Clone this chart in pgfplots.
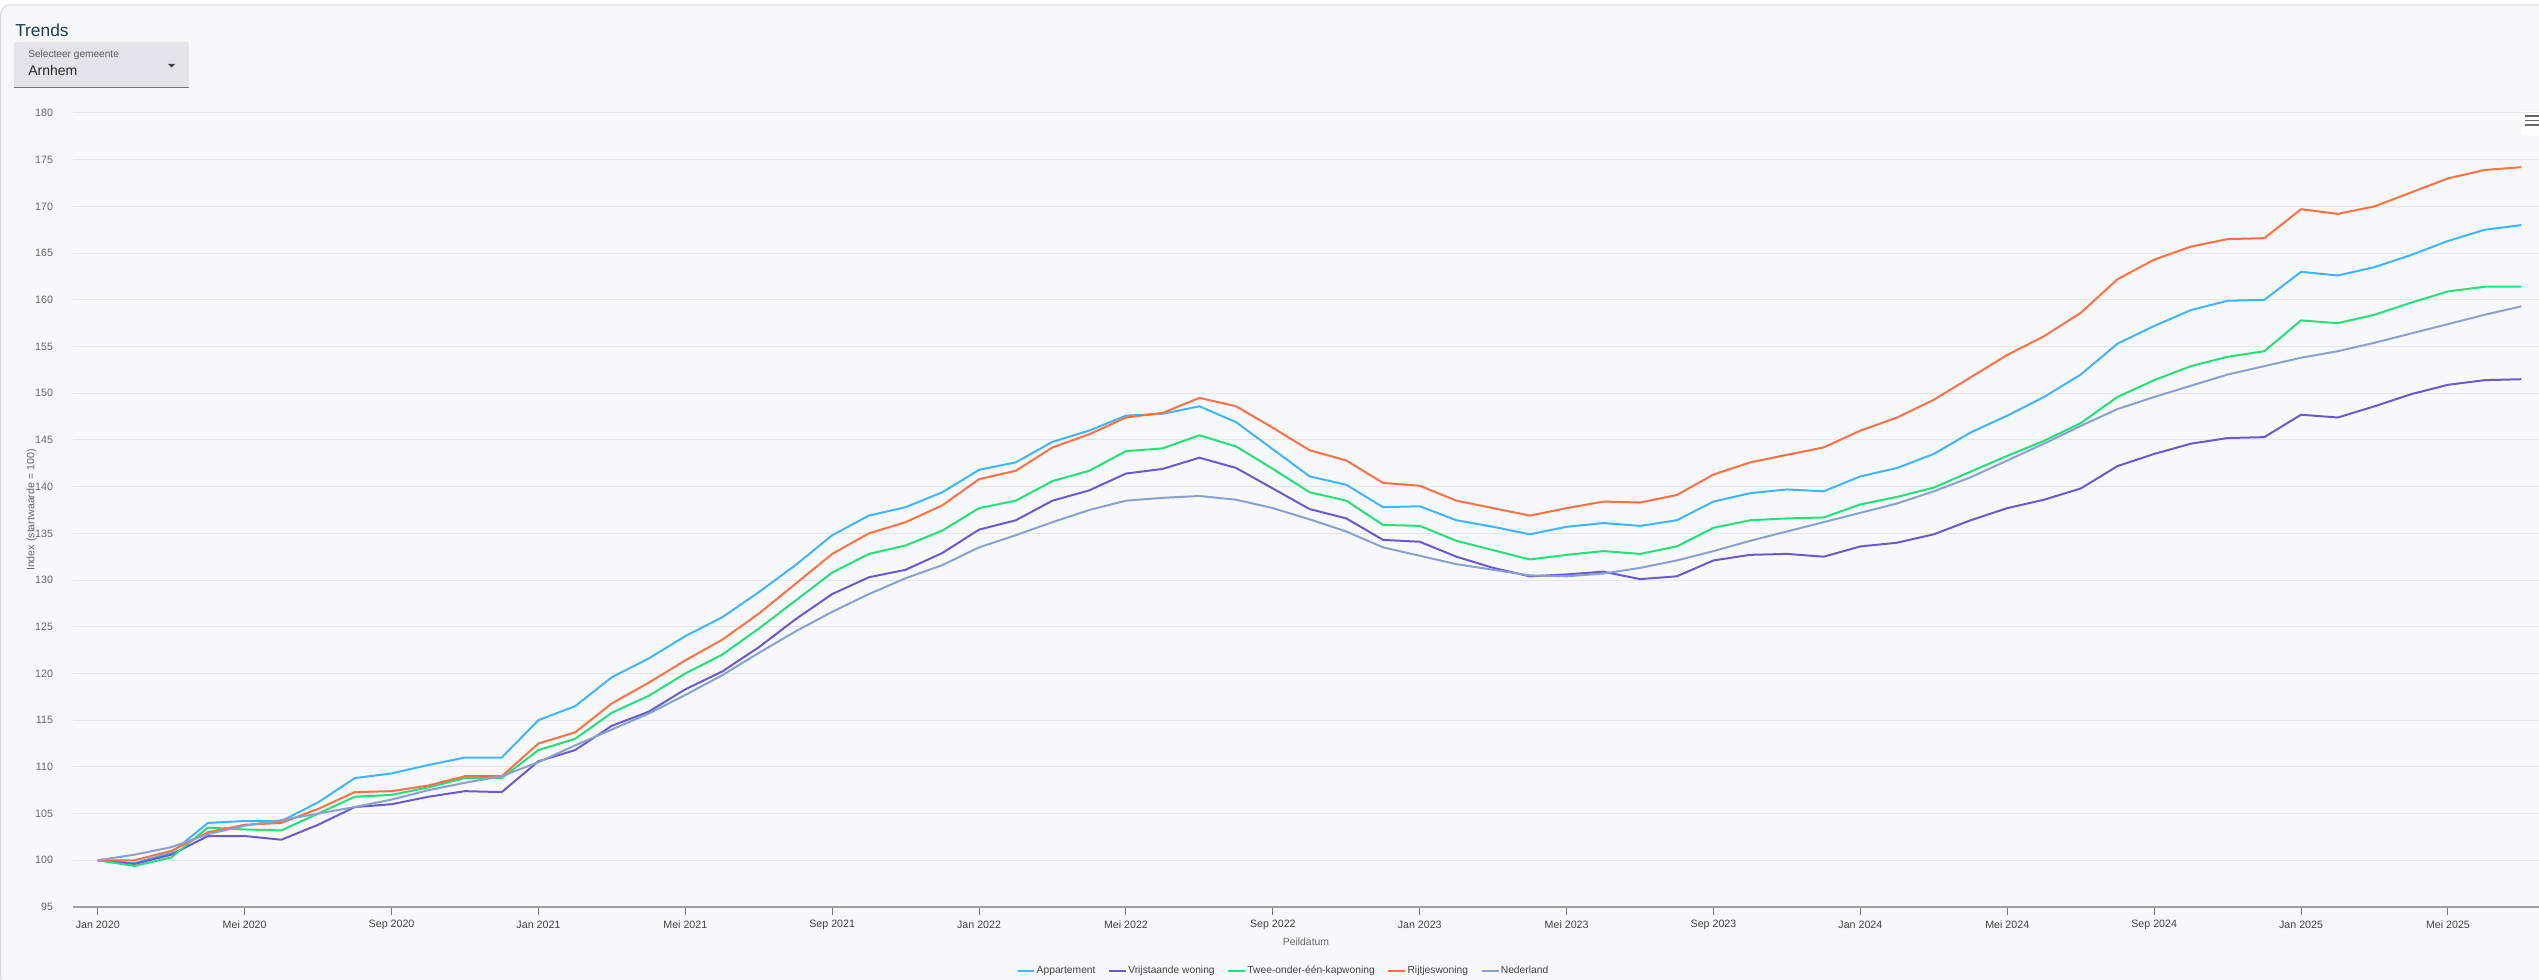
\documentclass[border=0pt]{standalone}
\usepackage{fontspec}
\setmainfont{Liberation Sans}
\usepackage{pgfplots}
\usepackage{pgfplotstable}
\pgfplotsset{compat=1.18}
\definecolor{cA}{RGB}{64,180,255}
\definecolor{cV}{RGB}{106,90,205}
\definecolor{cT}{RGB}{36,224,122}
\definecolor{cR}{RGB}{255,112,67}
\definecolor{cN}{RGB}{138,161,207}
\definecolor{bg}{HTML}{F7F8FA}
\definecolor{gridc}{HTML}{E6E6E6}
\definecolor{titlec}{HTML}{1E3A56}
\definecolor{ddfill}{HTML}{E1E4EB}

\pgfplotstableread{
m a v t r n
0 100.0 100.0 100.0 100.0 100.0
1 99.7 99.6 99.4 100.0 100.6
2 100.8 100.6 100.3 101.0 101.4
3 104.0 102.6 103.5 103.0 102.8
4 104.2 102.6 103.3 103.8 103.7
5 104.2 102.2 103.2 104.0 104.3
6 106.2 103.8 105.0 105.5 105.0
7 108.8 105.7 106.8 107.3 105.7
8 109.3 106.0 107.0 107.4 106.5
9 110.2 106.8 107.8 108.0 107.5
10 111.0 107.4 108.8 109.0 108.3
11 111.0 107.3 108.8 109.0 109.0
12 115.0 110.6 111.8 112.5 110.5
13 116.5 111.8 113.0 113.7 112.3
14 119.6 114.4 115.8 116.8 114.0
15 121.6 115.9 117.6 119.0 115.7
16 124.0 118.3 120.0 121.4 117.7
17 126.0 120.2 122.0 123.6 119.8
18 128.7 122.8 124.8 126.4 122.2
19 131.6 125.8 127.8 129.6 124.5
20 134.8 128.5 130.8 132.8 126.6
21 136.9 130.3 132.8 135.0 128.5
22 137.8 131.1 133.7 136.2 130.2
23 139.4 132.9 135.3 138.0 131.6
24 141.8 135.4 137.7 140.8 133.5
25 142.6 136.4 138.5 141.7 134.8
26 144.8 138.5 140.6 144.2 136.2
27 146.0 139.6 141.7 145.6 137.5
28 147.6 141.4 143.8 147.4 138.5
29 147.8 141.9 144.1 147.9 138.8
30 148.6 143.1 145.5 149.5 139.0
31 146.9 142.0 144.3 148.6 138.6
32 144.0 139.8 141.9 146.3 137.7
33 141.1 137.6 139.4 143.9 136.5
34 140.2 136.6 138.5 142.8 135.2
35 137.8 134.3 135.9 140.4 133.5
36 137.9 134.1 135.8 140.1 132.6
37 136.4 132.5 134.2 138.5 131.7
38 135.7 131.3 133.2 137.7 131.1
39 134.9 130.4 132.2 136.9 130.5
40 135.7 130.6 132.7 137.7 130.4
41 136.1 130.9 133.1 138.4 130.7
42 135.8 130.1 132.8 138.3 131.3
43 136.4 130.4 133.6 139.1 132.1
44 138.4 132.1 135.6 141.3 133.1
45 139.3 132.7 136.4 142.6 134.2
46 139.7 132.8 136.6 143.4 135.2
47 139.5 132.5 136.7 144.2 136.2
48 141.1 133.6 138.1 146.0 137.2
49 142.0 134.0 138.9 147.4 138.2
50 143.5 134.9 139.9 149.3 139.5
51 145.8 136.4 141.6 151.7 141.0
52 147.6 137.7 143.3 154.1 142.8
53 149.6 138.6 144.9 156.1 144.6
54 152.0 139.8 146.8 158.6 146.5
55 155.3 142.2 149.6 162.2 148.3
56 157.2 143.5 151.4 164.3 149.6
57 158.9 144.6 152.9 165.7 150.8
58 159.9 145.2 153.9 166.5 152.0
59 160.0 145.3 154.5 166.6 152.9
60 163.0 147.7 157.8 169.7 153.8
61 162.6 147.4 157.5 169.2 154.5
62 163.5 148.6 158.4 170.0 155.4
63 164.8 149.9 159.7 171.5 156.4
64 166.3 150.9 160.9 173.0 157.4
65 167.5 151.4 161.4 173.9 158.4
66 168.0 151.5 161.4 174.2 159.3
}\data

\begin{document}
\begin{tikzpicture}
% fixed page = 2539 x 980 px, 1px = 0.75pt, origin at plot area lower-left (px 73,907)
\useasboundingbox (-54.75pt,-54.75pt) rectangle (1849.5pt,680.25pt);
\fill[white] (-54.75pt,-54.75pt) rectangle (1849.5pt,680.25pt);
\filldraw[fill=bg, draw=black!15, line width=0.75pt, rounded corners=7pt] (-54.2pt,-60pt) rectangle (1856pt,676.5pt);
% title
\node[anchor=base west, inner sep=0pt, text=titlec, font=\fontsize{13}{15}\selectfont] at (-43.5pt,652.5pt) {Trends};
% dropdown
\fill[ddfill, rounded corners=2pt] (-44.25pt,614.25pt) rectangle (87pt,648.75pt);
\draw[black!55, line width=1.1pt] (-44.25pt,614.6pt) -- (87pt,614.6pt);
\node[anchor=base west, inner sep=0pt, text=black!65, font=\fontsize{7.6}{9}\selectfont] at (-33.75pt,637.3pt) {Selecteer gemeente};
\node[anchor=base west, inner sep=0pt, text=black!85, font=\fontsize{10.5}{12}\selectfont] at (-33.75pt,623.25pt) {Arnhem};
\fill[black!75] (71.2pt,632.3pt) -- (76.6pt,632.3pt) -- (73.9pt,629.6pt) -- cycle;
% menu icon
\fill[white] (1836pt,579pt) rectangle (1849.5pt,597pt);
\foreach \yy in {593.25,590,586.6} \draw[black!60, line width=1.1pt] (1839pt,\yy pt) -- (1849.5pt,\yy pt);
\begin{axis}[
  scale only axis,
  width=1849.5pt, height=595.5pt,
  xmin=-0.675, xmax=66.48,
  ymin=95, ymax=180,
  ytick={95,100,...,180},
  xtick={0,4,...,64},
  xticklabels={Jan 2020,Mei 2020,Sep 2020,Jan 2021,Mei 2021,Sep 2021,Jan 2022,Mei 2022,Sep 2022,Jan 2023,Mei 2023,Sep 2023,Jan 2024,Mei 2024,Sep 2024,Jan 2025,Mei 2025},
  /pgf/number format/assume math mode=true,
  yticklabel style={font=\fontsize{8}{9.6}\selectfont, text=black!60, inner sep=0pt, anchor=east, xshift=-9pt},
  xticklabel style={font=\fontsize{8}{9.6}\selectfont, text=black!75, inner sep=0pt, anchor=center, yshift=-7.5pt},
  ymajorgrids, grid style={gridc, line width=0.75pt},
  axis line style={draw=none},
  ytick style={draw=none},
  xtick pos=bottom, tick align=outside,
  major tick length=5.8pt,
  xtick style={black!55, line width=0.75pt},
  xlabel={Peildatum},
  xlabel style={at={(axis description cs:0.5,-0.0437)}, anchor=center, font=\fontsize{7.8}{9}\selectfont, text=black!60, inner sep=0pt},
  ylabel={Index (startwaarde = 100)},
  ylabel style={at={(axis description cs:-0.01676,0.5)}, anchor=center, font=\fontsize{8}{9}\selectfont, text=black!60, inner sep=0pt},
  legend columns=5,
  legend style={draw=none, fill=none, at={(axis description cs:0.4907,-0.0806)}, anchor=center,
    font=\fontsize{7.7}{9.2}\selectfont, text=black!75,
    /tikz/every even column/.append style={column sep=8.5pt},
    nodes={inner sep=1pt}},
  legend image code/.code={\draw[#1, line width=1.5pt] (0pt,0pt) -- (9.6pt,0pt); \path (0pt,0pt) -- (12.6pt,0pt);},
  every axis plot/.append style={line width=1.5pt, line join=round, no markers},
  clip=false,
]
\draw[black!38, line width=1.1pt] (rel axis cs:0,0) -- (rel axis cs:1,0);
\addplot[cA] table[x=m, y=a] {\data};
\addlegendentry{Appartement}
\addplot[cV] table[x=m, y=v] {\data};
\addlegendentry{Vrijstaande woning}
\addplot[cT] table[x=m, y=t] {\data};
\addlegendentry{Twee-onder-één-kapwoning}
\addplot[cR] table[x=m, y=r] {\data};
\addlegendentry{Rijtjeswoning}
\addplot[cN] table[x=m, y=n] {\data};
\addlegendentry{Nederland}
\end{axis}
\end{tikzpicture}
\end{document}
